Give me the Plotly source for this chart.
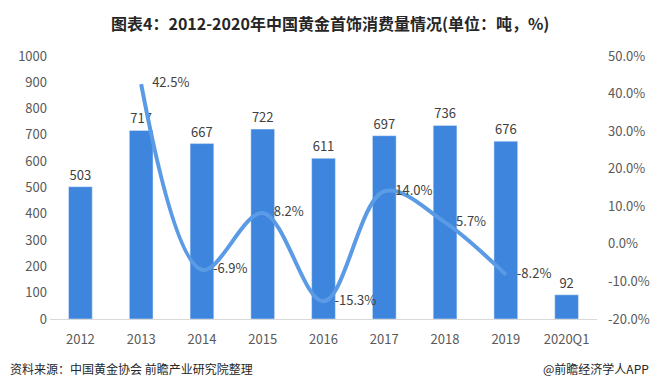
import plotly.graph_objects as go

categories = ["2012", "2013", "2014", "2015", "2016", "2017", "2018", "2019", "2020Q1"]
consumption = [503, 717, 667, 722, 611, 697, 736, 676, 92]
growth_years = ["2013", "2014", "2015", "2016", "2017", "2018", "2019"]
growth = [42.5, -6.9, 8.2, -15.3, 14.0, 5.7, -8.2]
left_ticks = [0, 100, 200, 300, 400, 500, 600, 700, 800, 900, 1000]
right_ticks = [-20, -10, 0, 10, 20, 30, 40, 50]

title_text = "图表4：2012-2020年中国黄金首饰消费量情况(单位：吨，%)"
source_text = "资料来源：中国黄金协会 前瞻产业研究院整理"
brand_text = "@前瞻经济学人APP"

FONT = "Noto Sans CJK SC"
BAR_COLOR = "#3d85dd"
LINE_COLOR = "#5b9be6"
TICK_FONT = dict(size=13, color="#595959", family=FONT)

# page body has an 8px margin on every side; keep the figure inside the window
OFF = 8
W, H = 660 - 2 * OFF, 389 - 2 * OFF
ml, mt = 50 - OFF, 56 - OFF
pw, ph = 547, 263
mr = W - ml - pw
mb = H - mt - ph

def px_x(x):  # page pixel -> paper
    return (x - OFF - ml) / pw

def px_y(y):
    return (mt + ph - (y - OFF)) / ph

fig = go.Figure()
fig.add_trace(go.Bar(
    x=categories, y=consumption, marker_color=BAR_COLOR,
    text=[str(v) for v in consumption], textposition="outside",
    textfont=dict(size=13, color="#404040", family=FONT),
    cliponaxis=False, yaxis="y", width=0.39,
))
fig.add_trace(go.Scatter(
    x=growth_years, y=growth, mode="lines+markers+text", yaxis="y2",
    line=dict(color=LINE_COLOR, width=4, shape="spline", smoothing=1.0),
    marker=dict(size=16, color="rgba(0,0,0,0)"),
    text=[f"{v:.1f}%" for v in growth], textposition="middle right",
    textfont=dict(size=13, color="#404040", family=FONT),
    cliponaxis=False,
))

fig.update_layout(
    width=W, height=H,
    margin=dict(l=ml, r=mr, t=mt, b=mb, autoexpand=False),
    paper_bgcolor="white", plot_bgcolor="white",
    showlegend=False,
    font=dict(family=FONT, color="#595959", size=12),
    xaxis=dict(type="category", categoryorder="array", categoryarray=categories,
               showline=True, linecolor="#d9d9d9", linewidth=1, showgrid=False,
               ticks="", tickfont=TICK_FONT, ticklabelstandoff=8, automargin=False),
    yaxis=dict(range=[0, 1000], tickvals=left_ticks, showgrid=False, zeroline=False,
               showline=False, ticks="", tickfont=TICK_FONT, ticklabelstandoff=2,
               automargin=False),
    yaxis2=dict(range=[-20, 50], tickvals=right_ticks, overlaying="y", side="right",
                ticktext=[f"{v:.1f}%" for v in right_ticks], tickmode="array",
                showgrid=False, zeroline=False, showline=False, ticks="",
                tickfont=TICK_FONT, ticklabelstandoff=10, automargin=False),
    bargap=0.6,
    annotations=[
        dict(text="<b>" + title_text + "</b>", xref="paper", yref="paper",
             x=px_x(330), y=px_y(23), xanchor="center", yanchor="middle",
             showarrow=False, font=dict(size=16, color="#262626", family=FONT)),
        dict(text=source_text, xref="paper", yref="paper",
             x=px_x(8), y=px_y(368), xanchor="left", yanchor="middle",
             showarrow=False, font=dict(size=12, color="#262626", family=FONT)),
        dict(text=brand_text, xref="paper", yref="paper",
             x=px_x(651), y=px_y(368), xanchor="right", yanchor="middle",
             showarrow=False, font=dict(size=12, color="#262626", family=FONT)),
    ],
)

fig.write_html("out.html")
